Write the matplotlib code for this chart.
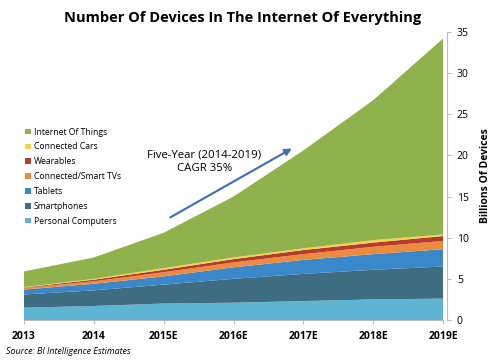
import matplotlib
matplotlib.use("Agg")
import matplotlib.pyplot as plt
import numpy as np

years = ["2013", "2014", "2015E", "2016E", "2017E", "2018E", "2019E"]
personal_computers = [1.5, 1.7, 2.0, 2.1, 2.3, 2.5, 2.6]
smartphones = [1.6, 1.9, 2.3, 2.9, 3.3, 3.6, 3.9]
tablets = [0.6, 0.8, 1.0, 1.4, 1.7, 1.9, 2.1]
smart_tvs = [0.2, 0.3, 0.5, 0.6, 0.7, 0.9, 1.0]
wearables = [0.05, 0.2, 0.3, 0.4, 0.5, 0.5, 0.6]
connected_cars = [0.05, 0.1, 0.2, 0.2, 0.2, 0.3, 0.2]
internet_of_things = [1.9, 2.6, 4.3, 7.4, 11.9, 17.0, 23.8]

series = [
    ("Personal Computers", personal_computers, "#5db4d3"),
    ("Smartphones", smartphones, "#3e6c80"),
    ("Tablets", tablets, "#3a87c9"),
    ("Connected/Smart TVs", smart_tvs, "#ec8b3e"),
    ("Wearables", wearables, "#b63a2d"),
    ("Connected Cars", connected_cars, "#f3d24e"),
    ("Internet Of Things", internet_of_things, "#8fb24c"),
]

plt.rcParams['font.family'] = ['Open Sans', 'DejaVu Sans']

fig = plt.figure(figsize=(5.0, 3.63), dpi=100)
ax = fig.add_axes([0.048, 0.1185, 0.838, 0.7935])
x = np.arange(len(years))
polys = ax.stackplot(x, *[s[1] for s in series], colors=[s[2] for s in series],
                     labels=[s[0] for s in series], linewidth=0)

ax.set_xlim(0, len(years) - 1)
ax.set_ylim(0, 35)
ax.set_xticks(x)
ax.set_xticklabels(years, fontsize=7.5, fontweight='bold')
ax.yaxis.tick_right()
ax.yaxis.set_label_position("right")
ax.set_yticks(np.arange(0, 36, 5))
ax.tick_params(axis='y', labelsize=7.5, length=3, color='#bbbbbb', pad=4)
ax.tick_params(axis='x', length=3, color='#bbbbbb', pad=5)
ax.set_ylabel("Billions Of Devices", fontsize=7.5, fontweight='bold', labelpad=8)
for sp in ["top", "left"]:
    ax.spines[sp].set_visible(False)
ax.spines["right"].set_position(("outward", 3))
ax.spines["right"].set_color("#bbbbbb")
ax.spines["bottom"].set_color("#bbbbbb")

handles, labels = ax.get_legend_handles_labels()
leg = ax.legend(handles[::-1], labels[::-1], loc="upper left",
                bbox_to_anchor=(-0.015, 0.695), frameon=False, fontsize=6.2,
                handlelength=0.6, handleheight=0.6, handletextpad=0.35,
                labelspacing=0.68)

ax.annotate("", xy=(3.87, 21.0), xytext=(2.06, 12.3),
            arrowprops=dict(arrowstyle="-|>", color="#3d6fb4", lw=1.5,
                            mutation_scale=10))
ax.text(2.58, 19.2, "Five-Year (2014-2019)\nCAGR 35%", ha="center", va="center",
        fontsize=8.2, linespacing=1.3)

fig.text(0.486, 0.95, "Number Of Devices In The Internet Of Everything",
         ha="center", va="center", fontsize=10.5, fontweight='bold')
fig.text(0.012, 0.032, "Source: BI Intelligence Estimates", ha="left", va="center",
         fontsize=6.4, style='italic')

fig.savefig("out.png", dpi=100)
